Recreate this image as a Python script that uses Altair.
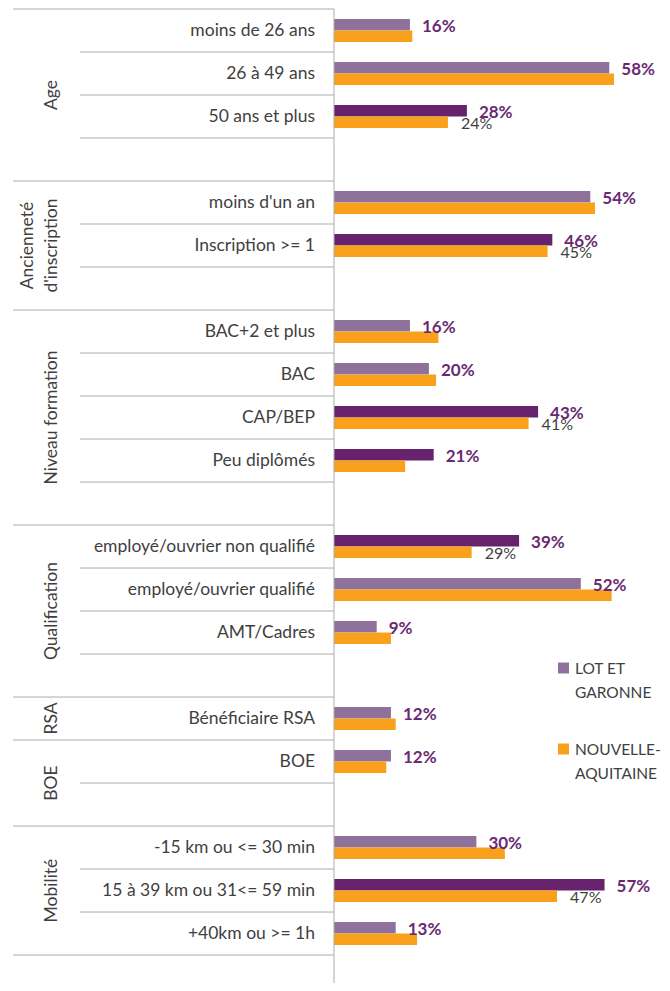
import altair as alt
import pandas as pd

# ---------------- data ----------------
LOT = "LOT ET GARONNE"
NA = "NOUVELLE-AQUITAINE"

groups = ["Age", "Ancienneté\nd'inscription", "Niveau formation", "Qualification",
          "RSA", "BOE", "Mobilité"]
group_categories = [
    ["moins de 26 ans", "26 à 49 ans", "50 ans et plus"],
    ["moins d'un an", "Inscription >= 1"],
    ["BAC+2 et plus", "BAC", "CAP/BEP", "Peu diplômés"],
    ["employé/ouvrier non qualifié", "employé/ouvrier qualifié", "AMT/Cadres"],
    ["Bénéficiaire RSA"],
    ["BOE"],
    ["-15 km ou <= 30 min", "15 à 39 km ou 31<= 59 min", "+40km ou >= 1h"],
]
group_blank_rows = [1, 1, 1, 1, 0, 1, 0]

lot_values = [0.16, 0.58, 0.28, 0.54, 0.46, 0.16, 0.20, 0.43, 0.21,
              0.39, 0.52, 0.09, 0.12, 0.12, 0.30, 0.57, 0.13]
na_values = [0.165, 0.59, 0.24, 0.55, 0.45, 0.22, 0.215, 0.41, 0.15,
             0.29, 0.585, 0.12, 0.13, 0.11, 0.36, 0.47, 0.175]
significant = [False, False, True, False, True, False, False, True, True,
               True, False, False, False, False, False, True, False]
na_label_shown = [False, False, True, False, True, False, False, True, False,
                  True, False, False, False, False, False, True, False]

legend_labels = [LOT, NA]
legend_lines = ["LOT ET\nGARONNE", "NOUVELLE-\nAQUITAINE"]

# ---------------- styling ----------------
FONT = "Lato"
C_LOT = "#8F729B"
C_LOT_SIG = "#66226D"
C_NA = "#F9A11C"
C_LABEL = "#6A2A73"
C_TEXT = "#3F3F3F"
C_LINE = "#ABABAB"

STEP = 43
EXTRA = 0.65  # trailing empty space, in rows

# ---------------- tables ----------------
row_keys, cat_rows, line_rows, group_rows = [], [], [], []
start = 0
for g, cats, nb in zip(groups, group_categories, group_blank_rows):
    n = len(cats) + nb
    for j, c in enumerate(cats):
        key = f"{g}|{c}"
        row_keys.append(key)
        cat_rows.append({"row": key, "cat": c})
        kind = "full" if (j == len(cats) - 1 and nb == 0) else "partial"
        line_rows.append({"row": key, "kind": kind})
    for b in range(nb):
        key = f"{g}|blank{b}"
        row_keys.append(key)
        line_rows.append({"row": key, "kind": "full" if b == nb - 1 else "partial"})
    group_rows.append({"group": g, "center": start + n / 2, "multi": "\n" in g})
    start += n

n_rows = len(row_keys)
height = int(round(STEP * (n_rows + EXTRA)))
total_units = n_rows + EXTRA
po = EXTRA / 2

bars = []
for i, c in enumerate(cat_rows):
    bars.append({"row": c["row"], "series": LOT, "value": lot_values[i],
                 "colorKey": LOT + (" *" if significant[i] else ""), "show": True})
    bars.append({"row": c["row"], "series": NA, "value": na_values[i],
                 "colorKey": NA, "show": na_label_shown[i]})
bars_df = pd.DataFrame(bars)
cats_df = pd.DataFrame(cat_rows)
lines_df = pd.DataFrame(line_rows)
groups_df = pd.DataFrame(group_rows)
top_df = pd.DataFrame([{"row": row_keys[0]}])

yscale = alt.Scale(domain=row_keys, paddingInner=0, paddingOuter=po, align=0)
yoff = alt.YOffset("series:N", scale=alt.Scale(domain=[LOT, NA], paddingInner=0, paddingOuter=0.87))
xscale = alt.Scale(domain=[0, 0.67], nice=False)
color_scale = alt.Scale(domain=[LOT, NA, LOT + " *"], range=[C_LOT, C_NA, C_LOT_SIG])

W = 318
LEFT = 326

bar_layer = alt.Chart(bars_df).mark_bar().encode(
    x=alt.X("value:Q", scale=xscale, axis=None),
    y=alt.Y("row:N", scale=yscale, axis=None),
    yOffset=yoff,
    color=alt.Color("colorKey:N", scale=color_scale, legend=None),
)

lot_text = alt.Chart(bars_df).transform_filter(alt.datum.series == LOT).mark_text(
    align="left", baseline="middle", dx=12, dy=2, font=FONT, fontSize=17,
    fontWeight="bold", color=C_LABEL,
).encode(
    x=alt.X("value:Q", scale=xscale, axis=None),
    y=alt.Y("row:N", scale=yscale, axis=None),
    yOffset=yoff,
    text=alt.Text("value:Q", format=".0%"),
)

na_text = alt.Chart(bars_df).transform_filter(
    (alt.datum.series == NA) & alt.datum.show
).mark_text(
    align="left", baseline="middle", dx=13, dy=2, font=FONT, fontSize=16, color=C_TEXT,
).encode(
    x=alt.X("value:Q", scale=xscale, axis=None),
    y=alt.Y("row:N", scale=yscale, axis=None),
    yOffset=yoff,
    text=alt.Text("value:Q", format=".0%"),
)

cat_text = alt.Chart(cats_df).mark_text(
    align="right", baseline="middle", font=FONT, fontSize=17.5, color=C_TEXT,
).encode(
    x=alt.value(-19),
    y=alt.Y("row:N", scale=yscale, axis=None),
    text="cat:N",
)

full_lines = alt.Chart(lines_df).transform_filter(alt.datum.kind == "full").mark_rule(
    color=C_LINE, strokeWidth=1).encode(
    x=alt.value(-321), x2=alt.value(0),
    y=alt.Y("row:N", scale=yscale, axis=None, bandPosition=1),
)
partial_lines = alt.Chart(lines_df).transform_filter(alt.datum.kind == "partial").mark_rule(
    color=C_LINE, strokeWidth=1).encode(
    x=alt.value(-254), x2=alt.value(0),
    y=alt.Y("row:N", scale=yscale, axis=None, bandPosition=1),
)
top_line = alt.Chart(top_df).mark_rule(color=C_LINE, strokeWidth=1).encode(
    x=alt.value(-321), x2=alt.value(0),
    y=alt.Y("row:N", scale=yscale, axis=None, bandPosition=0),
)
axis_line = alt.Chart(top_df).mark_rule(color=C_LINE, strokeWidth=1).encode(
    x=alt.value(0), y=alt.value(0), y2=alt.value(height),
)

inner = alt.layer(full_lines, partial_lines, top_line, bar_layer, lot_text, na_text,
                  cat_text, axis_line)

gy = alt.Y("center:Q", scale=alt.Scale(domain=[0, total_units], reverse=True,
                                       nice=False, zero=False), axis=None)
group_single = alt.Chart(groups_df).transform_filter(~alt.datum.multi).mark_text(
    angle=270, align="center", baseline="bottom", lineBreak="\n", lineHeight=24,
    font=FONT, fontSize=17.5, color=C_TEXT,
).encode(x=alt.value(-273), y=gy, text="group:N")
group_multi = alt.Chart(groups_df).transform_filter(alt.datum.multi).mark_text(
    angle=270, align="center", baseline="bottom", lineBreak="\n", lineHeight=24,
    font=FONT, fontSize=17.5, color=C_TEXT,
).encode(x=alt.value(-297), y=gy, text="group:N")

# legend (two entries: square + two-line label)
leg_df = pd.DataFrame({"series": legend_labels, "text": legend_lines})
leg_layers = []
for lab, ly in zip(legend_labels, [659, 740]):
    sq = alt.Chart(leg_df).transform_filter(alt.datum.series == lab).mark_point(
        shape="square", filled=True, size=121, opacity=1).encode(
        x=alt.value(229.5), y=alt.value(ly),
        color=alt.Color("series:N", scale=color_scale, legend=None),
    )
    tx = alt.Chart(leg_df).transform_filter(alt.datum.series == lab).mark_text(
        align="left", baseline="middle", lineBreak="\n", lineHeight=24,
        font=FONT, fontSize=15.5, color=C_TEXT).encode(
        x=alt.value(241), y=alt.value(ly + 1), text="text:N")
    leg_layers += [sq, tx]

chart = alt.layer(inner, group_single, group_multi, *leg_layers).resolve_scale(
    y="independent").properties(
    width=W, height=height,
    padding={"left": LEFT, "top": 1, "right": 10, "bottom": 0},
    autosize=alt.AutoSizeParams(type="none"),
).configure_view(stroke=None)

chart.save("out.html", embed_options={"renderer": "svg", "actions": False})
